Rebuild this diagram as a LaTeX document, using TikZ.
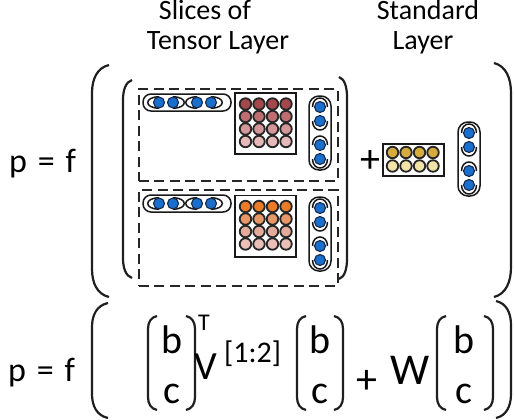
\documentclass[tikz,border=0pt]{standalone}
\usepackage{fontspec}
\setmainfont{Carlito}
\newfontfamily\eqfont[WordSpace=1.4]{Carlito}
\definecolor{vblue}{HTML}{1A6FCC}
\definecolor{vedge}{HTML}{16284A}
\definecolor{ra}{HTML}{A5474B}
\definecolor{rb}{HTML}{BE6D71}
\definecolor{rc}{HTML}{D39699}
\definecolor{rd}{HTML}{E5B8B9}
\definecolor{oa}{HTML}{EB7B26}
\definecolor{ob}{HTML}{E89868}
\definecolor{oc}{HTML}{E2AB9A}
\definecolor{od}{HTML}{E9BFB8}
\definecolor{ya}{HTML}{D6AC3C}
\definecolor{yb}{HTML}{F2E3A8}
\tikzset{
 bc/.style={circle,fill=vblue,draw=vedge,line width=1.1pt,minimum size=11pt,inner sep=0pt},
 mc/.style={circle,draw=black!85,line width=1.8pt,minimum size=11.5pt,inner sep=0pt},
 capline/.style={draw=black!90,line width=1.5pt},
 parline/.style={draw=black!88,line width=2.2pt},
 dbox/.style={draw=black!85,line width=1.8pt,dash pattern=on 10pt off 5.5pt,inner sep=0pt,anchor=north west},
 mbox/.style={draw=black!90,line width=1.8pt,inner sep=0pt,anchor=north west},
 ttl/.style={font=\fontsize{28}{30}\selectfont,inner sep=0pt,anchor=base},
 eqt/.style={inner sep=0pt,anchor=base},
}
\newcommand\hvecpic[3]{%
\begin{scope}[shift={(#2,#3)}]
\draw[capline,rounded corners=8pt] (0,0) rectangle (88,17);
\foreach \a/\b in {16/30,54/68}{
 \draw[capline] (\a,2.8) .. controls ({\a-15},2.8) and ({\a-15},14.2) .. (\a,14.2);
 \draw[capline] (\b,2.8) .. controls ({\b+15},2.8) and ({\b+15},14.2) .. (\b,14.2);
}
\foreach \c/\i in {16/1,30/2,54/3,68/4}{\node[bc] (#1\i) at (\c,8.5) {};}
\end{scope}}
\newcommand\vvecpic[3]{%
\begin{scope}[shift={(#2,#3)}]
\draw[capline,rounded corners=10pt] (0,0) rectangle (22,74);
\foreach \a/\b in {11/25,49/63}{
 \draw[capline] (3.5,\a) .. controls (3.5,{\a-12}) and (18.5,{\a-12}) .. (18.5,\a);
 \draw[capline] (3.5,\b) .. controls (3.5,{\b+12}) and (18.5,{\b+12}) .. (18.5,\b);
}
\foreach \c/\i in {11/1,25/2,49/3,63/4}{\node[bc] (#1\i) at (11,\c) {};}
\end{scope}}
\newcommand\lparpic[5]{% x, top, bottom, width, curve height
\draw[parline] ({#1+#4},#2) .. controls ({#1+0.3*#4},{#2+0.1*#5}) and (#1,{#2+0.5*#5}) .. (#1,{#2+#5})
 -- (#1,{#3-#5}) .. controls (#1,{#3-0.5*#5}) and ({#1+0.3*#4},{#3-0.1*#5}) .. ({#1+#4},#3);}
\newcommand\rparpic[5]{% x, top, bottom, width, curve height
\draw[parline] ({#1-#4},#2) .. controls ({#1-0.3*#4},{#2+0.1*#5}) and (#1,{#2+0.5*#5}) .. (#1,{#2+#5})
 -- (#1,{#3-#5}) .. controls (#1,{#3-0.5*#5}) and ({#1-0.3*#4},{#3-0.1*#5}) .. ({#1-#4},#3);}
\begin{document}
\begin{tikzpicture}[x=1pt,y=-1pt]
\useasboundingbox[fill=white] (0,0) rectangle (514,420);
% titles
\node[ttl] (t1) at (205,20) {Slices of};
\node[ttl] (t2) at (218,49) {Tensor Layer};
\node[ttl] (t3) at (428,20) {Standard};
\node[ttl] (t4) at (423,49) {Layer};
% upper equation
\node[eqt,anchor=base west,font=\eqfont\fontsize{34}{36}\selectfont] (pf1) at (9,172) {p = f};
\lparpic{92}{65}{297}{17}{28}
\rparpic{511}{63}{297}{17}{30}
\lparpic{123}{80}{278}{9}{20}
\rparpic{347}{77}{279}{8}{20}
% dashed slices
\node[dbox,minimum width=199pt,minimum height=92pt] (s1) at (138,88) {};
\node[dbox,minimum width=199pt,minimum height=96pt] (s2) at (138,189) {};
% slice 1
\hvecpic{ha}{143}{94}
\vvecpic{va}{309}{96}
\node[mbox,minimum width=61pt,minimum height=61pt] (m1) at (234,92) {};
\foreach \col/\r in {ra/1,rb/2,rc/3,rd/4}
 \foreach \j in {1,...,4}
  \node[mc,fill=\col] (m1c\r\j) at ({245.5+13.5*(\j-1)},{104+12.5*(\r-1)}) {};
% slice 2
\hvecpic{hb}{143}{195}
\vvecpic{vb}{309}{197}
\node[mbox,minimum width=61pt,minimum height=61.5pt] (m2) at (234,194.5) {};
\foreach \col/\r in {oa/1,ob/2,oc/3,od/4}
 \foreach \j in {1,...,4}
  \node[mc,fill=\col] (m2c\r\j) at ({245.5+13.5*(\j-1)},{206.5+12.5*(\r-1)}) {};
% standard layer
\node[eqt,anchor=center,font=\fontsize{40}{42}\selectfont] (plus1) at (370,162) {+};
\node[mbox,minimum width=61pt,minimum height=32pt] (m3) at (382,143) {};
\foreach \col/\r in {ya/1,yb/2}
 \foreach \j in {1,...,4}
  \node[mc,fill=\col] (m3c\r\j) at ({392.5+13.5*(\j-1)},{152.5+13.5*(\r-1)}) {};
\vvecpic{vc}{458}{122}
% lower equation
\node[eqt,anchor=base west,font=\eqfont\fontsize{34}{36}\selectfont] (pf2) at (8,381) {p = f};
\lparpic{92}{303}{418}{16}{24}
\rparpic{511}{301}{418}{15}{24}
\lparpic{148}{316}{410}{9}{13}
\rparpic{195}{316}{410}{9}{13}
\node[eqt,font=\fontsize{40}{42}\selectfont] (b1) at (172,353) {b};
\node[eqt,font=\fontsize{40}{42}\selectfont] (c1) at (172,403) {c};
\node[eqt,font=\fontsize{24}{26}\selectfont] (tt) at (204,330) {T};
\node[eqt,anchor=base west,font=\fontsize{40}{42}\selectfont] (vv) at (194,379) {V};
\node[eqt,anchor=base west,font=\fontsize{30}{32}\selectfont] (idx) at (224,362) {[1:2]};
\lparpic{297}{316}{410}{9}{13}
\rparpic{343}{316}{410}{9}{13}
\node[eqt,font=\fontsize{40}{42}\selectfont] (b2) at (320,353) {b};
\node[eqt,font=\fontsize{40}{42}\selectfont] (c2) at (320,403) {c};
\node[eqt,anchor=center,font=\fontsize{42}{44}\selectfont] (plus2) at (367,382) {+};
\node[eqt,anchor=base west,font=\fontsize{44}{46}\selectfont] (ww) at (390,384) {W};
\lparpic{437}{316}{410}{9}{13}
\rparpic{493}{316}{410}{9}{13}
\node[eqt,font=\fontsize{40}{42}\selectfont] (b3) at (464,353) {b};
\node[eqt,font=\fontsize{40}{42}\selectfont] (c3) at (464,403) {c};
\end{tikzpicture}
\end{document}
